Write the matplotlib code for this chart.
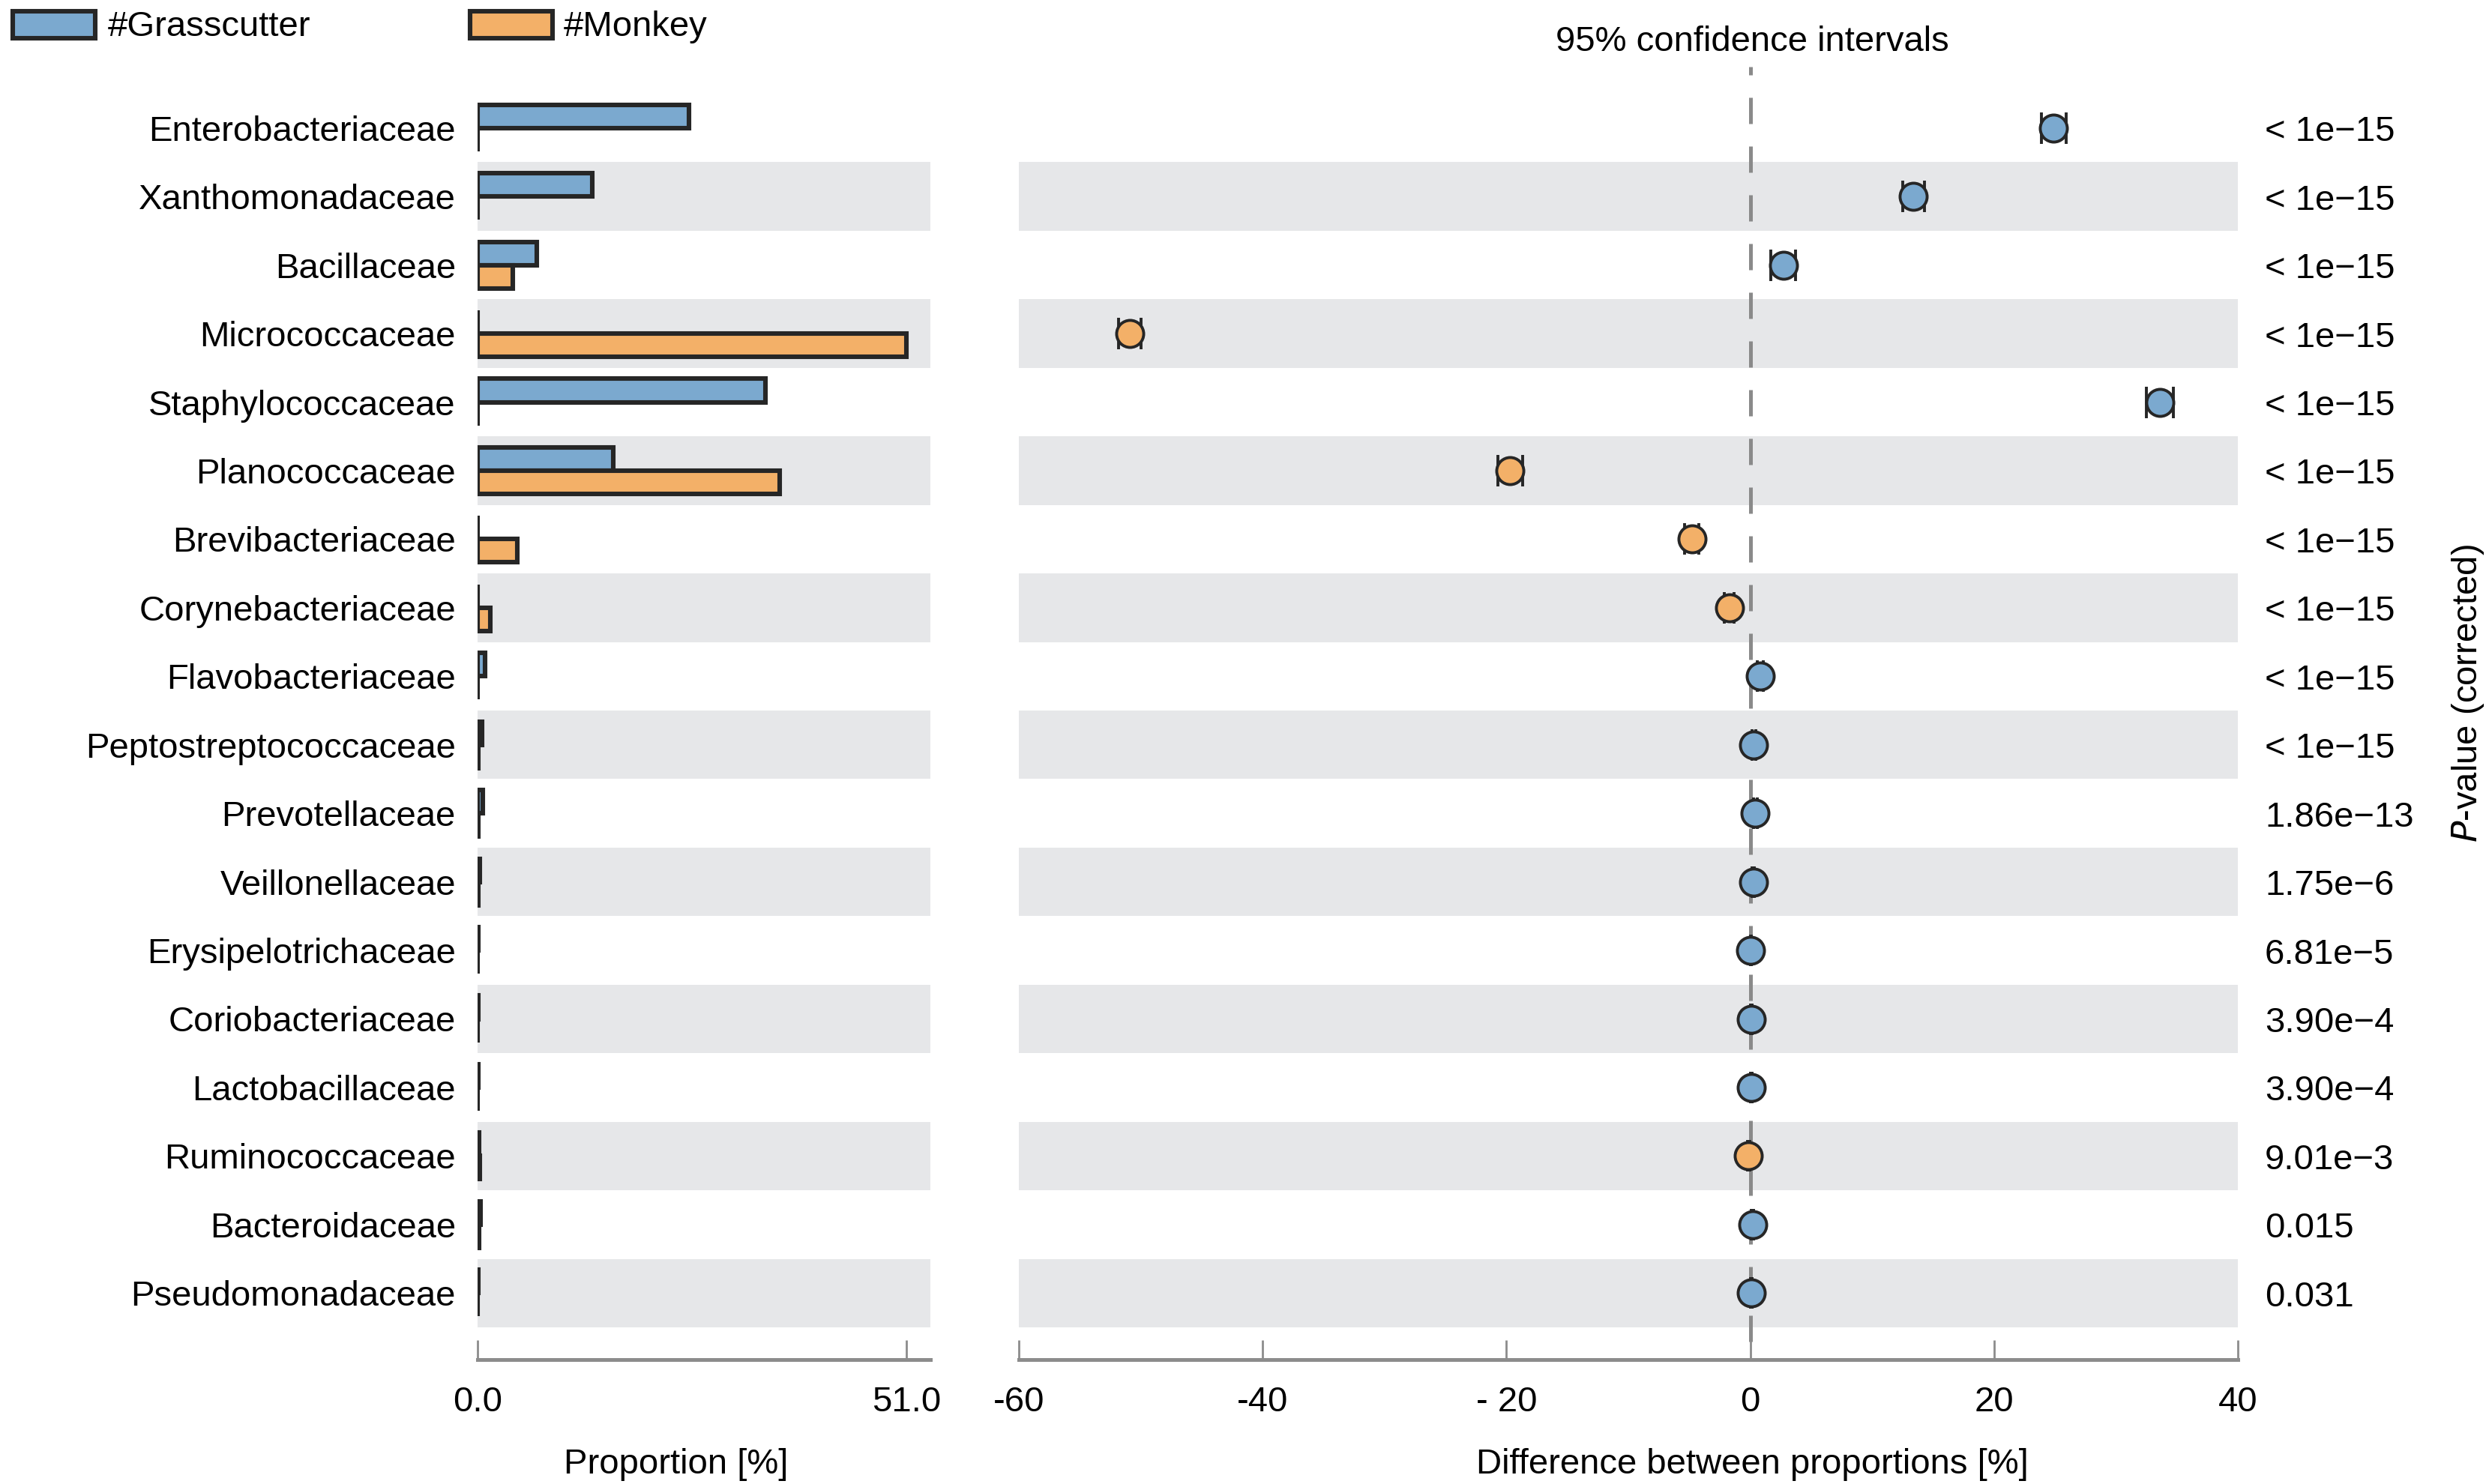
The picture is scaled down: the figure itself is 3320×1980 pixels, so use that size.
import numpy as np
import matplotlib.pyplot as plt
from matplotlib.patches import Rectangle
from matplotlib.lines import Line2D
from matplotlib.transforms import blended_transform_factory

plt.rcParams['font.family'] = ['Liberation Sans', 'DejaVu Sans']

families = ["Enterobacteriaceae", "Xanthomonadaceae", "Bacillaceae", "Micrococcaceae",
            "Staphylococcaceae", "Planococcaceae", "Brevibacteriaceae", "Corynebacteriaceae",
            "Flavobacteriaceae", "Peptostreptococcaceae", "Prevotellaceae", "Veillonellaceae",
            "Erysipelotrichaceae", "Coriobacteriaceae", "Lactobacillaceae", "Ruminococcaceae",
            "Bacteroidaceae", "Pseudomonadaceae"]

grasscutter = [25.1, 13.6, 7.0, 0.0, 34.2, 16.1, 0.0, 0.0, 0.9, 0.5, 0.6, 0.3,
               0.05, 0.1, 0.05, 0.15, 0.4, 0.1]
monkey = [0.0, 0.0, 4.2, 51.0, 0.0, 35.9, 4.7, 1.5, 0.0, 0.05, 0.1, 0.05,
          0.0, 0.0, 0.0, 0.3, 0.2, 0.02]

diff = [24.9, 13.4, 2.7, -50.9, 33.6, -19.7, -4.8, -1.7, 0.8, 0.3, 0.4, 0.26,
        0.05, 0.1, 0.1, -0.15, 0.2, 0.08]
ci_half = [1.0, 0.9, 1.0, 0.95, 1.1, 1.0, 0.6, 0.4, 0.25, 0.15, 0.15, 0.1,
           0.05, 0.05, 0.05, 0.1, 0.1, 0.05]

pvalues = ["< 1e\u221215"] * 10 + ["1.86e\u221213", "1.75e\u22126", "6.81e\u22125",
                                     "3.90e\u22124", "3.90e\u22124", "9.01e\u22123",
                                     "0.015", "0.031"]

blue = "#7BA9CF"
orange = "#F3B068"
edge = "#262626"
band = "#E6E7E9"
axis_grey = "#8C8C8C"

fs = 17
n = len(families)
y = np.arange(n)

fig = plt.figure(figsize=(16.6, 9.9), dpi=200)
bottom = 1 - 1771 / 1980
height = 1646 / 1980
ax1 = fig.add_axes([637 / 3320, bottom, 604 / 3320, height])
ax2 = fig.add_axes([1359 / 3320, bottom, 1626 / 3320, height])

for ax in (ax1, ax2):
    ax.set_ylim(n - 0.5, -0.5)
    for i in range(1, n, 2):
        ax.axhspan(i - 0.5, i + 0.5, color=band, lw=0, zorder=0)
    for s in ("top", "right", "left"):
        ax.spines[s].set_visible(False)
    ax.spines["bottom"].set_position(("outward", 15.5))
    ax.spines["bottom"].set_color(axis_grey)
    ax.spines["bottom"].set_linewidth(1.8)
    ax.tick_params(axis="x", direction="in", length=9.5, width=1.0, color=axis_grey,
                   labelsize=fs, pad=12.5)
    ax.tick_params(axis="y", length=0)

# left: proportions
bh = 0.34
ax1.barh(y - 0.17, grasscutter, height=bh, color=blue, edgecolor=edge, linewidth=2.2, zorder=2)
ax1.barh(y + 0.17, monkey, height=bh, color=orange, edgecolor=edge, linewidth=2.2, zorder=2)
ax1.set_xlim(0, 53.85)
ax1.set_xticks([0, 51])
ax1.set_xticklabels(["0.0", "51.0"])
ax1.set_yticks(y)
ax1.set_yticklabels(families, fontsize=fs)
ax1.tick_params(axis="y", pad=10.5)

# right: differences with CI
ax2.set_xlim(-60, 40)
ax2.set_xticks([-60, -40, -20, 0, 20, 40])
ax2.set_xticklabels(["-60", "-40", "- 20", "0", "20", "40"])
ax2.set_yticks([])
ax2.add_line(Line2D([0, 0], [-0.0115, 1.022], transform=ax2.get_xaxis_transform(),
                    color="#8A8A8A", lw=1.8, dashes=(7, 6), clip_on=False, zorder=1))
for i in range(n):
    c = blue if diff[i] >= 0 else orange
    ax2.errorbar(diff[i], y[i], xerr=ci_half[i], fmt="o", ms=13, mfc=c, mec=edge, mew=1.4,
                 ecolor=edge, elinewidth=1.0, capsize=7.5, capthick=1.0, zorder=3)

# p-values column
ptrans = blended_transform_factory(fig.transFigure, ax2.transData)
for i in range(n):
    ax2.text(3021 / 3320, y[i] + 0.06, pvalues[i], transform=ptrans, fontsize=fs,
             va="center", ha="left", clip_on=False)

fig.text(3292 / 3320, 1 - 925 / 1980, "$\\it{P}$-value (corrected)", rotation=90,
         fontsize=fs, ha="center", va="center")

fig.text(902 / 3320, 1 - 1954 / 1980, "Proportion [%]", fontsize=fs, ha="center", va="center")
fig.text(2337 / 3320, 1 - 1954 / 1980, "Difference between proportions [%]", fontsize=fs,
         ha="center", va="center")
fig.text(2337 / 3320, 1 - 56 / 1980, "95% confidence intervals", fontsize=fs,
         ha="center", va="center")

# legend
for x0, c, label, tx in [(17, blue, "#Grasscutter", 144), (627, orange, "#Monkey", 752)]:
    fig.patches.append(Rectangle((x0 / 3320, 1 - 51 / 1980), 110 / 3320, 36 / 1980,
                                 transform=fig.transFigure, facecolor=c, edgecolor=edge,
                                 linewidth=2.2))
    fig.text(tx / 3320, 1 - 36 / 1980, label, fontsize=fs, ha="left", va="center")

fig.savefig("out.png", dpi=200)
